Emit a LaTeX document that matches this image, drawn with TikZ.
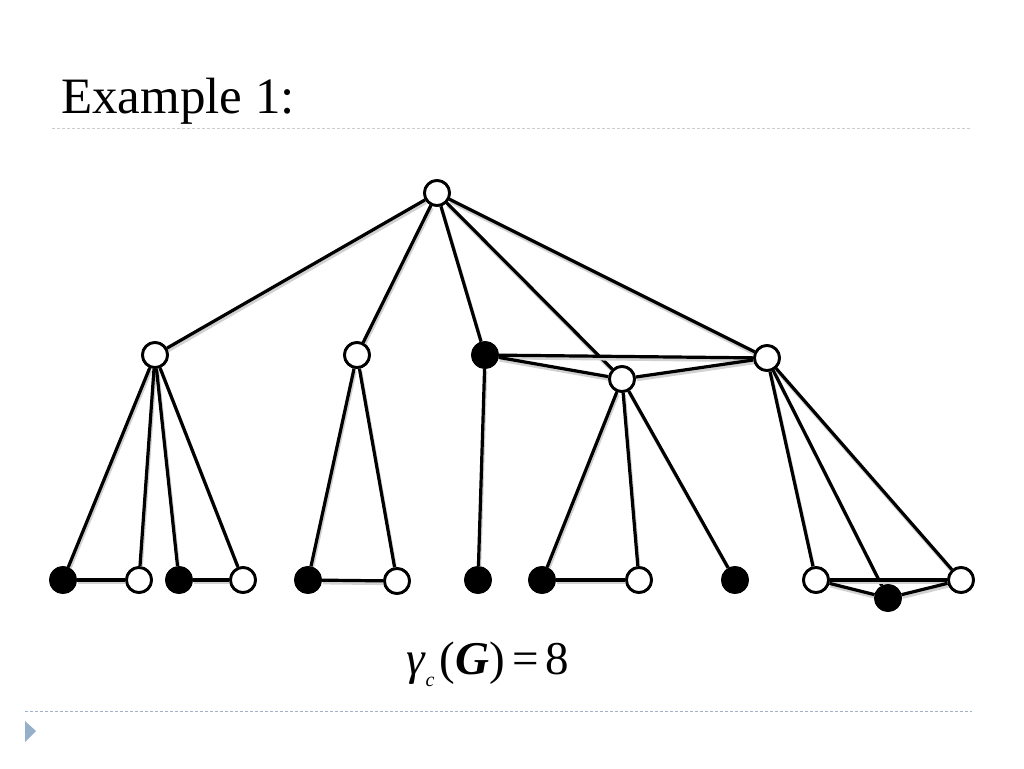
\documentclass[tikz,border=0pt]{standalone}
\usepackage{fontspec}
\setmainfont{Liberation Serif}
\usetikzlibrary{positioning}
\definecolor{RuleGray}{RGB}{200,205,210}
\definecolor{RuleBlue}{RGB}{160,178,196}
\definecolor{MarkBlue}{RGB}{150,176,204}
\tikzset{
  whitevtx/.style={draw=black,circle,fill=white,line width=2.8pt,
    minimum size=25pt,inner sep=0pt},
  blackvtx/.style={draw=black,circle,fill=black,line width=2.8pt,
    minimum size=25pt,inner sep=0pt},
  graphedge/.style={draw=black,line width=3.2pt,
    preaction={draw=black!18,line width=3.5pt,
      transform canvas={shift={(1pt,-2.5pt)}}}},
}

\begin{document}
\begin{tikzpicture}[x=1pt,y=-1pt]
\useasboundingbox (0,0) rectangle (1024,768);
% title and rules
\node[anchor=base west,inner sep=0pt,font=\fontsize{51}{58}\selectfont] (title) at (61,113) {Example 1:};
\draw[RuleGray,line width=1pt,dash pattern=on 3pt off 2pt] (52,128) -- (972,128);
\draw[RuleBlue,line width=1pt,dash pattern=on 3pt off 2pt] (25,711) -- (972,711);
\fill[MarkBlue] (25,721) -- (36,731) -- (25,742) -- cycle;

% vertices
\node[whitevtx] (root) at (437,193) {};
\node[whitevtx] (la) at (155,355) {};
\node[whitevtx] (lb) at (357,355) {};
\node[blackvtx] (lc) at (485,355) {};
\node[whitevtx] (ld) at (622,379) {};
\node[whitevtx] (le) at (767,358) {};
\node[blackvtx] (a1) at (63,580) {};
\node[whitevtx] (a2) at (139,580) {};
\node[blackvtx] (a3) at (179,580) {};
\node[whitevtx] (a4) at (243,580) {};
\node[blackvtx] (b1) at (308,580) {};
\node[whitevtx] (b2) at (397,581) {};
\node[blackvtx] (c1) at (478,580) {};
\node[blackvtx] (d1) at (542,580) {};
\node[whitevtx] (d2) at (639,580) {};
\node[blackvtx] (d3) at (735,580) {};
\node[whitevtx] (e1) at (816,580) {};
\node[blackvtx] (e2) at (888,598) {};
\node[whitevtx] (e3) at (961,580) {};

% edges
\foreach \u/\v in {root/la,root/lb,root/lc,root/ld,root/le,
    la/a1,la/a2,la/a3,la/a4,a1/a2,a3/a4,
    lb/b1,lb/b2,b1/b2,
    lc/c1,lc/le,lc/ld,ld/le,
    ld/d1,ld/d2,ld/d3,d1/d2,
    le/e1,le/e2,le/e3,e1/e3,e1/e2,e2/e3}
  \draw[graphedge] (\u) -- (\v);

% redraw vertices on top of edges
\foreach \n in {root,la,lb,ld,le,a2,a4,b2,d2,e1,e3}
  \node[whitevtx] at (\n) {};
\foreach \n in {lc,a1,a3,b1,c1,d1,d3,e2}
  \node[blackvtx] at (\n) {};

% domination number
\node[anchor=base west,inner sep=0pt,font=\fontsize{47}{54}\selectfont] (gam) at (406,674)
  {\itshape γ\hspace{1pt}\raisebox{-12pt}{\fontsize{20}{22}\selectfont c}\hspace{5pt}\upshape(\bfseries\itshape G\mdseries\upshape)\hspace{8pt}=\hspace{6pt}8};
\end{tikzpicture}
\end{document}
